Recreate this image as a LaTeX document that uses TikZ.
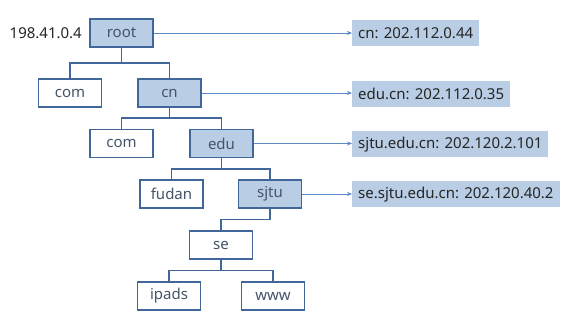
\documentclass[tikz,border=0pt]{standalone}
\usepackage{fontspec}
\setmainfont{Noto Sans}
\usepackage{tikz}
\usetikzlibrary{arrows.meta,calc}

\definecolor{boxfill}{HTML}{B9CDE5}
\definecolor{boxline}{HTML}{41679A}
\definecolor{labeltext}{HTML}{44546A}
\definecolor{reclink}{HTML}{5B8AC6}

\tikzset{
    zonebox/.style={draw=boxline, line width=1.4pt, fill=white, text=labeltext,
        minimum width=63pt, minimum height=28pt, inner sep=0pt, font=\fontsize{15}{17}\selectfont},
    visited/.style={zonebox, fill=boxfill},
    record/.style={fill=boxfill, text=black!85, anchor=west, minimum height=26pt,
        inner xsep=6pt, inner ysep=0pt, font=\fontsize{15}{17}\selectfont},
    fork/.style={to path={(\tikztostart) |- ($(\tikztostart)!.5!(\tikztotarget)$) -| (\tikztotarget)}},
    branch/.style={draw=boxline, line width=1.6pt},
    query/.style={draw=reclink, line width=0.8pt, -{Stealth[length=5pt,width=4pt]}}
}

\begin{document}
\begin{tikzpicture}[x=1pt, y=-1pt]
        \useasboundingbox (0,0) rectangle (582,320);

        % Name tree
        \node[visited] (root) at (121.5,33) {root};
        \node[zonebox] (com) at (70,93) {com};
        \node[visited] (cn) at (169.5,93) {cn};
        \node[zonebox] (cncom) at (121.5,143.5) {com};
        \node[visited] (edu) at (221.5,143.5) {edu};
        \node[zonebox] (fudan) at (171.5,194) {fudan};
        \node[visited] (sjtu) at (270,194) {sjtu};
        \node[zonebox] (se) at (221,245) {se};
        \node[zonebox] (ipads) at (169,296) {ipads};
        \node[zonebox] (www) at (273,296) {www};

        \node[anchor=east, inner xsep=2pt, text=black!85, font=\fontsize{15}{17}\selectfont] (rootip) at (84,33) {198.41.0.4};

        % Branches
        \draw[branch] (root.south) to[fork] (com.north);
        \draw[branch] (root.south) to[fork] (cn.north);
        \draw[branch] (cn.south) to[fork] (cncom.north);
        \draw[branch] (cn.south) to[fork] (edu.north);
        \draw[branch] (edu.south) to[fork] (fudan.north);
        \draw[branch] (edu.south) to[fork] (sjtu.north);
        \draw[branch] (sjtu.south) to[fork] (se.north);
        \draw[branch] (se.south) to[fork] (ipads.north);
        \draw[branch] (se.south) to[fork] (www.north);

        % Answers returned at each step
        \node[record] (ans1) at (352,33) {cn: 202.112.0.44};
        \node[record] (ans2) at (352,94) {edu.cn: 202.112.0.35};
        \node[record] (ans3) at (352,144.5) {sjtu.edu.cn: 202.120.2.101};
        \node[record] (ans4) at (352,194.5) {se.sjtu.edu.cn: 202.120.40.2};

        \draw[query] (root.east) -- (root.east -| ans1.west);
        \draw[query] (cn.east) -- (cn.east -| ans2.west);
        \draw[query] (edu.east) -- (edu.east -| ans3.west);
        \draw[query] (sjtu.east) -- (sjtu.east -| ans4.west);
\end{tikzpicture}
\end{document}
